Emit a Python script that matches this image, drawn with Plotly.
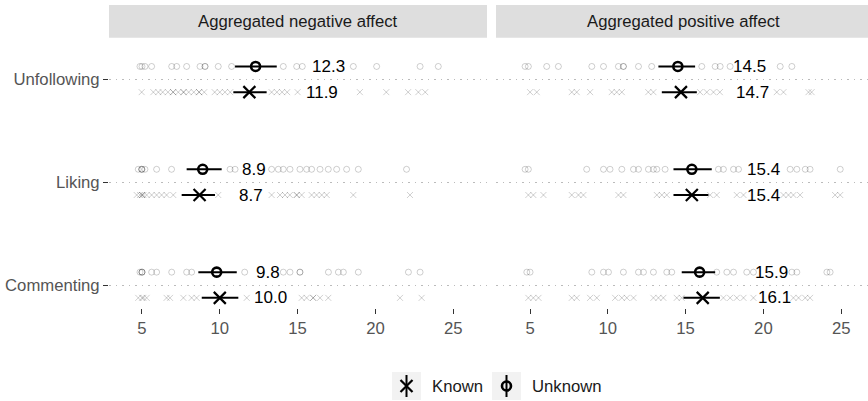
import plotly.graph_objects as go

W, H = 868, 401
FONT = "Liberation Sans, Arial, Helvetica, sans-serif"

# ---------------- data ----------------
actions = ["Commenting", "Liking", "Unfollowing"]          # bottom -> top
facet_titles = ["Aggregated negative affect", "Aggregated positive affect"]
x_ticks = [5, 10, 15, 20, 25]

# group means (Commenting, Liking, Unfollowing)
neg_known_mean = [10.0, 8.7, 11.9]
neg_unknown_mean = [9.8, 8.9, 12.3]
pos_known_mean = [16.1, 15.4, 14.7]
pos_unknown_mean = [15.9, 15.4, 14.5]

# confidence interval bounds
neg_known_lo = [8.84, 7.55, 10.87]
neg_known_hi = [11.19, 9.69, 13.01]
neg_unknown_lo = [8.62, 7.87, 10.98]
neg_unknown_hi = [11.09, 10.12, 13.66]
pos_known_lo = [14.86, 14.22, 13.47]
pos_known_hi = [17.20, 16.47, 15.72]
pos_unknown_lo = [14.75, 14.22, 13.25]
pos_unknown_hi = [16.90, 16.68, 15.61]

# individual scores
neg_unknown_commenting = [4.87, 5.0, 5.0, 5.0, 5.62, 5.94, 6.91, 7.87, 8.19, 11.6, 14.08, 14.51,
                          15.15, 15.15, 16.98, 17.62, 17.94, 18.9, 22.12, 22.87]
neg_unknown_liking = [4.76, 4.98, 4.98, 5.0, 5.19, 5.94, 6.9, 10.66, 10.98, 13.33, 13.76, 14.08,
                      14.51, 15.15, 15.58, 15.9, 16.44, 16.97, 17.51, 18.15, 18.9, 22.0]
neg_unknown_unfollowing = [4.87, 5.0, 5.19, 5.62, 6.91, 7.23, 7.87, 8.73, 9.05, 9.05, 9.9, 10.76,
                           14.08, 14.94, 15.3, 18.58, 20.08, 22.87, 24.04]

neg_known_commenting = [4.76, 5.0, 5.09, 5.3, 6.58, 6.8, 7.66, 8.19, 8.51, 11.73, 15.26, 15.58,
                        16.0, 16.0, 16.44, 16.97, 21.58, 22.97]
neg_known_liking = [4.66, 4.87, 5.0, 5.0, 5.09, 5.3, 5.62, 5.94, 6.26, 6.58, 7.01, 9.9, 13.33,
                    13.87, 14.19, 14.5, 14.94, 14.94, 15.26, 15.9, 16.22, 16.55, 16.87, 18.58, 22.22]
neg_known_unfollowing = [4.98, 5.73, 6.05, 6.33, 6.67, 7.0, 7.0, 7.33, 7.67, 7.67, 8.0, 8.33, 8.67,
                         8.67, 9.0, 9.67, 10.0, 10.33, 10.67, 13.33, 13.67, 14.0, 14.33, 15.0,
                         19.0, 20.7, 22.1, 22.76, 23.2]

pos_unknown_commenting = [4.79, 5.0, 8.97, 9.72, 10.04, 11.0, 11.97, 12.29, 12.93, 13.79, 14.11,
                          17.0, 17.65, 18.08, 18.93, 19.36, 21.83, 22.15, 24.08, 24.29]
pos_unknown_liking = [4.68, 4.89, 8.64, 9.72, 10.14, 10.9, 11.65, 11.97, 12.61, 12.93, 13.15,
                      13.68, 17.11, 17.43, 18.08, 18.4, 21.72, 22.15, 22.69, 23.0, 24.94]
pos_unknown_unfollowing = [4.68, 4.89, 6.07, 6.82, 8.97, 9.72, 10.68, 11.0, 11.0, 11.97, 12.82,
                           16.04, 16.9, 17.22, 17.86, 21.08, 21.83]

pos_known_commenting = [4.89, 5.21, 5.54, 7.68, 8.0, 8.86, 9.29, 10.47, 10.9, 11.22, 11.65, 12.93,
                        13.25, 13.57, 14.43, 14.75, 17.43, 17.86, 18.29, 18.72, 19.36, 21.93,
                        22.26, 22.69, 23.0]
pos_known_liking = [4.89, 5.21, 5.86, 7.68, 8.11, 8.43, 10.68, 11.0, 13.15, 13.47, 13.79, 16.58,
                    17.0, 18.29, 18.72, 21.29, 21.61, 21.93, 22.36, 24.61, 24.94]
pos_known_unfollowing = [5.0, 5.43, 7.68, 8.0, 8.86, 10.25, 10.57, 10.9, 12.6, 12.93, 15.93,
                         16.36, 16.79, 17.2, 20.86, 21.29, 22.9, 23.1]

# ---------------- styling ----------------
DODGE = 0.125
FAINT = "rgba(0,0,0,0.19)"
AXIS_GREY = "#555555"
TEXT_SIZE = 16.7
LABEL_SIZE = 17

panels = [
    dict(xa="x", ya="y",
         known=[neg_known_commenting, neg_known_liking, neg_known_unfollowing],
         unknown=[neg_unknown_commenting, neg_unknown_liking, neg_unknown_unfollowing],
         mk=neg_known_mean, lk=neg_known_lo, hk=neg_known_hi,
         mu=neg_unknown_mean, lu=neg_unknown_lo, hu=neg_unknown_hi,
         label_shift=[51, 51, 73]),
    dict(xa="x2", ya="y2",
         known=[pos_known_commenting, pos_known_liking, pos_known_unfollowing],
         unknown=[pos_unknown_commenting, pos_unknown_liking, pos_unknown_unfollowing],
         mk=pos_known_mean, lk=pos_known_lo, hk=pos_known_hi,
         mu=pos_unknown_mean, lu=pos_unknown_lo, hu=pos_unknown_hi,
         label_shift=[72, 72, 72]),
]

fig = go.Figure()
annotations = []

for p in panels:
    # faint individual scores
    for i in range(len(actions)):
        base = i + 1
        fig.add_trace(go.Scatter(
            x=p["unknown"][i], y=[base + DODGE] * len(p["unknown"][i]),
            mode="markers", xaxis=p["xa"], yaxis=p["ya"], showlegend=False, hoverinfo="skip",
            marker=dict(symbol="circle-open", size=6, color=FAINT, line=dict(width=1, color=FAINT))))
        fig.add_trace(go.Scatter(
            x=p["known"][i], y=[base - DODGE] * len(p["known"][i]),
            mode="markers", xaxis=p["xa"], yaxis=p["ya"], showlegend=False, hoverinfo="skip",
            marker=dict(symbol="x-thin", size=6, color=FAINT, line=dict(width=1, color=FAINT))))

    ys = list(range(1, len(actions) + 1))
    # means with intervals
    for mean, lo, hi, sign, sym, size, lw in [
        (p["mu"], p["lu"], p["hu"], 1, "circle-open", 9, 2.6),
        (p["mk"], p["lk"], p["hk"], -1, "x-thin", 12, 2.2),
    ]:
        fig.add_trace(go.Scatter(
            x=mean, y=[y + sign * DODGE for y in ys], mode="markers",
            xaxis=p["xa"], yaxis=p["ya"], showlegend=False, hoverinfo="skip",
            error_x=dict(type="data", symmetric=False,
                         array=[h - m for h, m in zip(hi, mean)],
                         arrayminus=[m - l for m, l in zip(mean, lo)],
                         thickness=2, width=0, color="black"),
            marker=dict(symbol=sym, size=size, color="black", line=dict(width=lw, color="black"))))
        for y, m, sh in zip(ys, mean, p["label_shift"]):
            annotations.append(dict(
                x=m, y=y + sign * DODGE, xref=p["xa"], yref=p["ya"], text=f"{m:.1f}",
                showarrow=False, xanchor="center", yanchor="middle", xshift=sh,
                font=dict(family=FONT, size=LABEL_SIZE, color="black")))

# ---------------- layout ----------------
def px_x(v):
    return v / W


def px_y(v):
    return 1 - v / H


panel_top, panel_bot = 38, 308
y_dom = [px_y(panel_bot), px_y(panel_top)]
left_dom = [px_x(109), px_x(487)]
right_dom = [px_x(496), 1.0]
y_range = [0.7764, 3.4015]

xcommon = dict(tickvals=x_ticks, ticks="outside", ticklen=5, tickwidth=1.4, tickcolor="#333333",
               showgrid=False, zeroline=False, showline=False,
               tickfont=dict(family=FONT, size=TEXT_SIZE, color=AXIS_GREY))
ycommon = dict(range=y_range, domain=y_dom, tickvals=[1, 2, 3], showgrid=True,
               gridcolor="#BBBBBB", gridwidth=1, griddash="1.5px,5px",
               zeroline=False, showline=False)

strips = []
for (x0, x1), title in zip([(109, 487), (496, 868)], facet_titles):
    strips.append(dict(type="rect", xref="paper", yref="paper",
                       x0=px_x(x0), x1=px_x(x1), y0=px_y(37.7), y1=px_y(5),
                       fillcolor="#DEDEDE", line=dict(width=0), layer="below"))
    annotations.append(dict(x=px_x((x0 + x1) / 2 if x1 < 868 else (x0 + 870) / 2), y=px_y(21.5),
                            xref="paper", yref="paper", text=title, showarrow=False,
                            xanchor="center", yanchor="middle",
                            font=dict(family=FONT, size=TEXT_SIZE, color="#1A1A1A")))

# legend drawn on a pixel overlay
legend_cy = 386
legend_keys = [("Known", 392, "x-thin", 12, 2.2), ("Unknown", 492, "circle-open", 9, 2.6)]
for name, kx, sym, size, lw in legend_keys:
    strips.append(dict(type="rect", xref="x3", yref="y3", x0=kx, x1=kx + 29,
                       y0=legend_cy - 14, y1=legend_cy + 14,
                       fillcolor="#F2F2F2", line=dict(width=0), layer="below"))
    cx = kx + 14.5
    fig.add_trace(go.Scatter(x=[cx, cx], y=[legend_cy - 11, legend_cy + 11], mode="lines",
                             line=dict(color="black", width=2), xaxis="x3", yaxis="y3",
                             showlegend=False, hoverinfo="skip"))
    fig.add_trace(go.Scatter(x=[cx], y=[legend_cy], mode="markers", xaxis="x3", yaxis="y3",
                             showlegend=False, hoverinfo="skip",
                             marker=dict(symbol=sym, size=size, color="black",
                                         line=dict(width=lw, color="black"))))
    annotations.append(dict(x=kx + 38, y=legend_cy, xref="x3", yref="y3", text=name,
                            showarrow=False, xanchor="left", yanchor="middle",
                            font=dict(family=FONT, size=TEXT_SIZE, color="#1A1A1A")))

fig.update_layout(
    width=W, height=H, margin=dict(l=0, r=0, t=0, b=0),
    paper_bgcolor="white", plot_bgcolor="rgba(0,0,0,0)",
    showlegend=False,
    xaxis=dict(domain=left_dom, range=[2.88, 27.17], anchor="y", **xcommon),
    xaxis2=dict(domain=right_dom, range=[2.81, 26.725], anchor="y2", **xcommon),
    yaxis=dict(anchor="x", ticktext=actions, ticks="outside", ticklen=5, tickwidth=1.4,
               tickcolor="#333333", tickfont=dict(family=FONT, size=TEXT_SIZE, color=AXIS_GREY),
               **ycommon),
    yaxis2=dict(anchor="x2", matches="y", showticklabels=False, ticks="", **ycommon),
    xaxis3=dict(domain=[0, 1], range=[0, W], visible=False, anchor="y3"),
    yaxis3=dict(domain=[0, 1], range=[H, 0], visible=False, anchor="x3"),
    shapes=strips,
    annotations=annotations,
)

fig.write_html("out.html")
